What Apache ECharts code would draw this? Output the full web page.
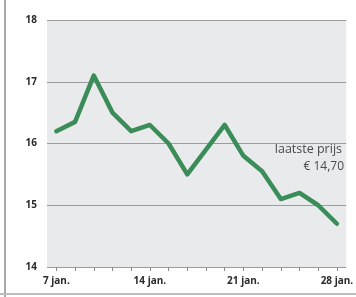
<!DOCTYPE html>
<html>
<head>
<meta charset="utf-8">
<script src="https://cdn.jsdelivr.net/npm/echarts@6/dist/echarts.min.js"></script>
<style>
  html, body { margin: 0; padding: 0; background: #fff; }
  #chart { width: 356px; height: 297px; }
</style>
</head>
<body>
<div id="chart"></div>
<script>
// handelsdagen januari
var days = ['7 jan.', '8 jan.', '9 jan.', '10 jan.', '11 jan.',
            '14 jan.', '15 jan.', '16 jan.', '17 jan.', '18 jan.',
            '21 jan.', '22 jan.', '23 jan.', '24 jan.', '25 jan.', '28 jan.'];
var koers = [16.2, 16.35, 17.1, 16.5, 16.2, 16.3, 16.0, 15.5, 15.9, 16.3,
             15.8, 15.55, 15.1, 15.2, 15.0, 14.7];
var shownLabels = ['7 jan.', '14 jan.', '21 jan.', '28 jan.'];
var yTicks = [14, 15, 16, 17, 18];

var chart = echarts.init(document.getElementById('chart'));
var option = {
    animation: false,
    backgroundColor: '#fff',
    grid: {
        left: 47,
        right: 4,
        top: 20,
        bottom: 30,
        show: true,
        backgroundColor: '#e9eaec',
        borderWidth: 0
    },
    xAxis: {
        type: 'category',
        data: days,
        boundaryGap: true,
        axisLine: { show: false },
        axisTick: {
            show: true,
            interval: 0,
            alignWithLabel: true,
            length: 4,
            lineStyle: { color: '#8a8a8a' }
        },
        axisLabel: {
            interval: 0,
            color: '#2a2a2a',
            fontFamily: 'Open Sans',
            fontWeight: 'bold',
            fontSize: 10,
            margin: 9,
            formatter: function (v) {
                return shownLabels.indexOf(v) >= 0 ? v : '';
            }
        }
    },
    yAxis: {
        type: 'value',
        min: yTicks[0],
        max: yTicks[yTicks.length - 1],
        interval: 1,
        axisLine: { show: false },
        axisTick: { show: false },
        splitLine: { lineStyle: { color: '#9c9c9c', width: 1 } },
        axisLabel: {
            color: '#2a2a2a',
            fontFamily: 'Open Sans',
            fontWeight: 'bold',
            fontSize: 10,
            margin: 10
        }
    },
    series: [{
        type: 'line',
        data: koers,
        symbol: 'none',
        lineStyle: { color: '#3a8c58', width: 4.5, join: 'round', cap: 'round' }
    }],
    graphic: [
        // rand links en onder
        { type: 'rect', left: 4, top: 0, shape: { width: 2, height: 297 }, style: { fill: '#a9a9a9' } },
        { type: 'rect', left: 0, top: 293, shape: { width: 356, height: 2 }, style: { fill: '#bdbdbd' } },
        {
            type: 'text', x: 342, y: 143,
            style: { text: 'laatste prijs', fill: '#4a4a4a', font: '12.5px "Open Sans"', align: 'right' }
        },
        {
            type: 'text', x: 344, y: 161,
            style: { text: '€ 14,70', fill: '#4a4a4a', font: '12px "Open Sans"', align: 'right' }
        }
    ]
};
chart.setOption(option);
</script>
</body>
</html>
